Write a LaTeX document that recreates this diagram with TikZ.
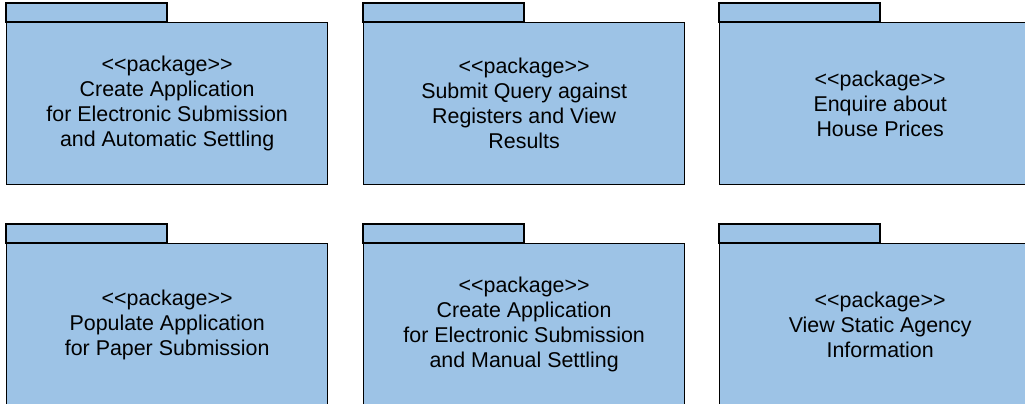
\documentclass[tikz,border=0pt]{standalone}
\usepackage{fontspec}
\setmainfont{Liberation Sans}
\usetikzlibrary{calc}
\definecolor{pkgfill}{RGB}{157,195,230}
\newcommand{\stereo}{{<}{<}package{>}{>}}
\tikzset{
  pkg/.style={draw=black, fill=pkgfill, line width=1.3pt, minimum width=321pt, minimum height=162pt,
    inner sep=0pt, align=center, font=\fontsize{21.4}{25}\selectfont, anchor=north west},
  pkgtab/.style={draw=black, fill=pkgfill, line width=1.3pt}
}
\begin{document}
\begin{tikzpicture}[x=1pt,y=-1pt]
\useasboundingbox (0,0) rectangle (1025,404);
\node[pkg] (p1) at (6,22) {\stereo\\Create Application\\for Electronic Submission\\and Automatic Settling};
\draw[pkgtab] (p1.north west) rectangle ++(161,-19);
\node[pkg] (p2) at (363,22) {\stereo\\Submit Query against\\Registers and View\\Results};
\draw[pkgtab] (p2.north west) rectangle ++(161,-19);
\node[pkg] (p3) at (719,22) {\stereo\\Enquire about\\House Prices};
\draw[pkgtab] (p3.north west) rectangle ++(161,-19);
\node[pkg] (p4) at (6,243) {\stereo\\Populate Application\\for Paper Submission};
\draw[pkgtab] (p4.north west) rectangle ++(161,-19);
\node[pkg] (p5) at (363,243) {\stereo\\Create Application\\for Electronic Submission\\and Manual Settling};
\draw[pkgtab] (p5.north west) rectangle ++(161,-19);
\node[pkg] (p6) at (719,243) {\stereo\\View Static Agency\\Information};
\draw[pkgtab] (p6.north west) rectangle ++(161,-19);
\end{tikzpicture}
\end{document}
